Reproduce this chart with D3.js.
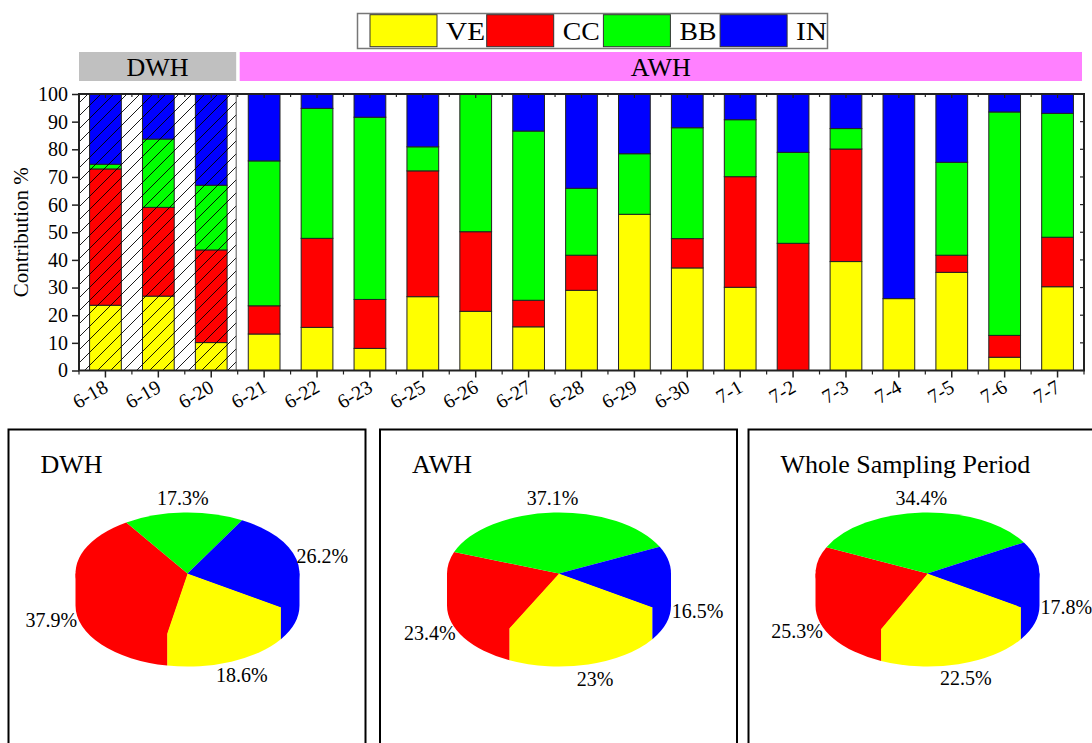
<!DOCTYPE html>
<html><head><meta charset="utf-8">
<script src="https://cdn.jsdelivr.net/npm/d3@7"></script>
<style>
body{margin:0;background:#fff}
svg{display:block}
text{font-family:"Liberation Serif","Times New Roman",serif;fill:#000}
</style>
</head><body>
<svg id="c" width="1092" height="743"></svg>
<script>
// ---------- data ----------
const dates = ["6-18","6-19","6-20","6-21","6-22","6-23","6-25","6-26","6-27","6-28","6-29","6-30","7-1","7-2","7-3","7-4","7-5","7-6","7-7"];
const seriesKeys = ["VE","CC","BB","IN"];
const seriesColors = ["#ffff00","#ff0000","#00ff00","#0000ff"];
const VE = [23.6,26.9,10.1,13.2,15.6,8.0,26.7,21.4,15.8,29.0,56.5,37.1,30.1,0,39.4,26.0,35.5,4.8,30.3];
const CC = [49.3,32.1,33.5,10.2,32.2,17.7,45.5,28.8,9.6,12.7,0,10.6,40.0,46.0,40.7,0,6.2,7.9,17.9];
const BB = [1.7,24.7,23.4,52.4,47.0,65.9,8.7,49.8,61.2,24.2,21.9,40.1,20.6,32.9,7.4,0,33.6,80.8,44.8];
const IN = [25.4,16.3,33.0,24.2,5.2,8.4,19.1,0,13.4,34.1,21.6,12.2,9.3,21.1,12.5,74.0,24.7,6.5,7.0];
const periods = ["DWH","AWH"];
const periodCounts = [3,16];
const yTicks = [0,10,20,30,40,50,60,70,80,90,100];
const pieTitles = ["DWH","AWH","Whole Sampling Period"];
const pieVE = [18.6,23,22.5];
const pieCC = [37.9,23.4,25.3];
const pieBB = [17.3,37.1,34.4];
const pieIN = [26.2,16.5,17.8];

// ---------- layout ----------
const svg = d3.select("#c");
const M = {l:79, r:1084, t:94, b:370.5};
const x = d3.scaleBand().domain(dates).range([M.l, M.r]).paddingInner(0.4).paddingOuter(0.2);
const y = d3.scaleLinear().domain([0,100]).range([M.b, M.t]);
const step = x.step();

const defs = svg.append("defs");
const pat = defs.append("pattern").attr("id","hatch").attr("patternUnits","userSpaceOnUse")
  .attr("width",13).attr("height",13);
pat.append("path").attr("d","M-1,1 l2,-2 M0,13 l13,-13 M12,14 l2,-2")
  .attr("stroke","#000").attr("stroke-width",0.9);

// ---------- legend ----------
const legendTextLen = [39, 37, 37, 31];
const lg = svg.append("g");
lg.append("rect").attr("x",357.5).attr("y",13.5).attr("width",470).attr("height",35)
  .attr("fill","#fff").attr("stroke","#777").attr("stroke-width",1.5);
seriesKeys.forEach((k,i)=>{
  const lx = 370 + i*116.7;
  lg.append("rect").attr("x",lx).attr("y",14.7).attr("width",67).attr("height",32)
    .attr("fill",seriesColors[i]).attr("stroke","#333").attr("stroke-width",1);
  lg.append("text").attr("x",lx+76).attr("y",40).attr("font-size",25)
    .attr("textLength",legendTextLen[i]).attr("lengthAdjust","spacingAndGlyphs").text(k);
});

// ---------- period header boxes ----------
let acc = 0;
periods.forEach((p,i)=>{
  const x0 = M.l + acc*step + (i===0?0:2);
  acc += periodCounts[i];
  const x1 = M.l + acc*step - (i===0?1.5:2);
  svg.append("rect").attr("x",x0).attr("y",52).attr("width",x1-x0).attr("height",29)
    .attr("fill", i===0 ? "#c0c0c0" : "#ff80ff");
  svg.append("text").attr("x",(x0+x1)/2).attr("y",76).attr("text-anchor","middle")
    .attr("font-size",26).text(p);
});

// ---------- bars ----------
const table = dates.map((d,i)=>({date:d, VE:VE[i], CC:CC[i], BB:BB[i], IN:IN[i]}));
const stacked = d3.stack().keys(seriesKeys)(table);
const bw = x.bandwidth();
svg.append("g").selectAll("g").data(stacked).join("g")
  .attr("fill",(d,i)=>seriesColors[i])
  .selectAll("rect").data(d=>d.filter(s=>s[1]-s[0]>0)).join("rect")
  .attr("x",d=>x(d.data.date)).attr("width",bw)
  .attr("y",d=>y(d[1])).attr("height",d=>y(d[0])-y(d[1]))
  .attr("stroke","#222").attr("stroke-width",1);

// hatch over DWH region
const hx1 = M.l + periodCounts[0]*step - 1.5;
svg.append("rect").attr("x",M.l).attr("y",M.t).attr("width",hx1-M.l).attr("height",M.b-M.t)
  .attr("fill","url(#hatch)");
svg.append("line").attr("x1",hx1).attr("x2",hx1).attr("y1",M.t).attr("y2",M.b)
  .attr("stroke","#555").attr("stroke-width",1);

// ---------- axes ----------
const yAxis = svg.append("g").attr("transform",`translate(${M.l},0)`)
  .call(d3.axisLeft(y).tickValues(yTicks).tickSize(7).tickPadding(4));
yAxis.select(".domain").remove();
yAxis.selectAll("line").attr("stroke","#222").attr("stroke-width",1.5);
yAxis.selectAll("text").attr("font-size",20).attr("font-family",'"Liberation Serif","Times New Roman",serif');

const xAxis = svg.append("g").attr("transform",`translate(0,${M.b})`)
  .call(d3.axisBottom(x).tickSize(7).tickFormat(""));
xAxis.select(".domain").remove();
xAxis.selectAll("line").attr("stroke","#222").attr("stroke-width",1.5);

const bounds = d3.range(dates.length+1).map(i=>M.l+i*step);
const tk = svg.append("g").attr("stroke","#222").attr("stroke-width",1.2);
bounds.forEach(b=>{
  tk.append("line").attr("x1",b).attr("x2",b).attr("y1",M.b).attr("y2",M.b+4);
  tk.append("line").attr("x1",b).attr("x2",b).attr("y1",M.t).attr("y2",M.t+3);
});
dates.forEach(d=>{
  const cx = x(d)+bw/2;
  tk.append("line").attr("x1",cx).attr("x2",cx).attr("y1",M.t).attr("y2",M.t+4);
});
yTicks.forEach(v=>{
  tk.append("line").attr("x1",M.r).attr("x2",M.r-4).attr("y1",y(v)).attr("y2",y(v));
});

svg.append("g").selectAll("text").data(dates).join("text")
  .attr("text-anchor","end").attr("font-size",20)
  .attr("transform",d=>`translate(${x(d)+bw/2+4},391) rotate(-30)`)
  .text(d=>d);

svg.append("rect").attr("x",M.l).attr("y",M.t).attr("width",M.r-M.l).attr("height",M.b-M.t)
  .attr("fill","none").attr("stroke","#222").attr("stroke-width",2);

svg.append("text").attr("transform",`translate(28,${(M.t+M.b)/2}) rotate(-90)`)
  .attr("text-anchor","middle").attr("font-size",21).text("Contribution %");

// ---------- pies ----------
const panelX = [8.5, 380, 748.5];
const panelW = 357;
const pieRx = 112, pieRy = 61, pieDepth = 32, pieCy = 573.5;
const startTheta = 33.5*Math.PI/180; // parametric angle from +x, clockwise on screen
const TAU = Math.PI*2;

panelX.forEach((px,pi)=>{
  const g = svg.append("g");
  g.append("rect").attr("x",px).attr("y",429.5).attr("width",panelW).attr("height",340)
    .attr("fill","#fff").attr("stroke","#000").attr("stroke-width",2);
  g.append("text").attr("x",px+32).attr("y",473).attr("font-size",26).text(pieTitles[pi]);

  const cx = px+179, cy = pieCy, rx = pieRx, ry = pieRy, dp = pieDepth;
  const vals = [pieVE[pi], pieCC[pi], pieBB[pi], pieIN[pi]];
  const arcs = d3.pie().sort(null).startAngle(startTheta+Math.PI/2).endAngle(startTheta+Math.PI/2+TAU)(vals);
  const top = t=>[cx+rx*Math.cos(t), cy+ry*Math.sin(t)];
  const bot = t=>[cx+rx*Math.cos(t), cy+ry*Math.sin(t)+dp];

  // side walls (front half: theta in [0, PI]); region includes wedge so no seam at rim
  arcs.forEach((a,i)=>{
    const t1 = a.startAngle-Math.PI/2, t2 = a.endAngle-Math.PI/2;
    [0, TAU, -TAU].forEach(off=>{
      const lo = Math.max(t1, off), hi = Math.min(t2, off+Math.PI);
      if(hi-lo>1e-6){
        const p1=top(lo), p2=top(hi), q2=bot(hi), q1=bot(lo);
        g.append("path").attr("fill",seriesColors[i])
          .attr("d",`M${cx},${cy}L${p1}L${q1}A${rx},${ry} 0 0 1 ${q2}L${p2}Z`);
      }
    });
  });
  // top faces
  arcs.forEach((a,i)=>{
    const t1 = a.startAngle-Math.PI/2, t2 = a.endAngle-Math.PI/2;
    const p1=top(t1), p2=top(t2);
    const large = (t2-t1)>Math.PI?1:0;
    g.append("path").attr("fill",seriesColors[i])
      .attr("d",`M${cx},${cy}L${p1}A${rx},${ry} 0 ${large} 1 ${p2}Z`);
  });
  // labels
  arcs.forEach((a,i)=>{
    const m = (a.startAngle+a.endAngle)/2-Math.PI/2;
    const s = Math.sin(m);
    g.append("text").attr("text-anchor","middle").attr("font-size",20).attr("dy","0.35em")
      .attr("x",cx+1.24*rx*Math.cos(m))
      .attr("y",cy+1.24*ry*s+(s>0?dp:0))
      .text(vals[i]+"%");
  });
});
</script>
</body></html>
